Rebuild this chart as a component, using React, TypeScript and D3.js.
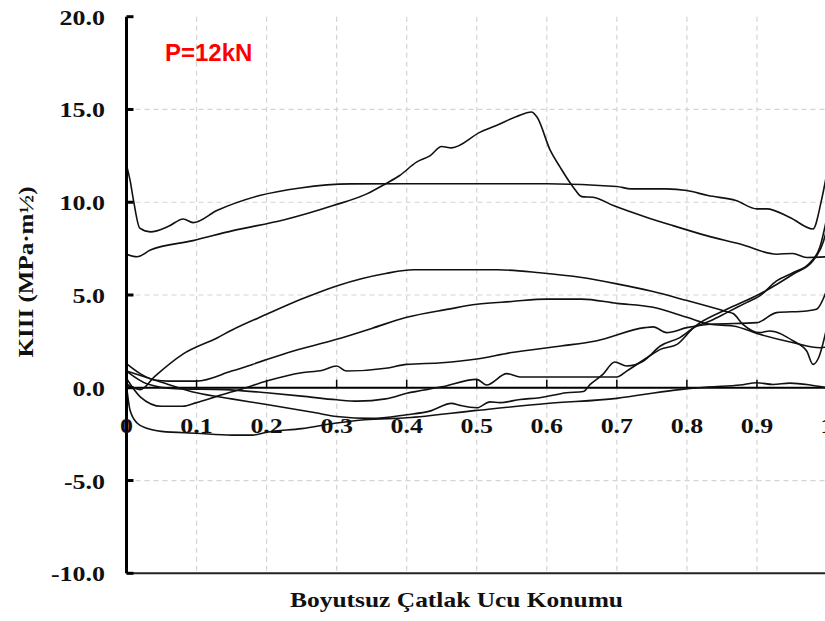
import * as d3 from 'd3';
import React from 'react';

type Pt = [number, number];

// tick values
const yTicks = [-10, -5, 0, 5, 10, 15, 20];
const xTicks = [0, 0.1, 0.2, 0.3, 0.4, 0.5, 0.6, 0.7, 0.8, 0.9, 1];
const yGrid = [-5, 5, 10, 15];

// curves: [crack tip position, KIII]
const curveA: Pt[] = [
  [0, 12.0], [0.005, 11.2], [0.01, 10.1], [0.019, 8.6], [0.034, 8.4], [0.06, 8.7], [0.081, 9.1],
  [0.095, 8.9], [0.129, 9.55], [0.19, 10.36], [0.248, 10.77], [0.32, 10.99], [0.4, 11.0],
  [0.6, 11.0], [0.7, 10.85], [0.72, 10.72], [0.77, 10.72], [0.8, 10.63], [0.83, 10.36],
  [0.87, 10.09], [0.9, 9.64], [0.914, 9.64], [0.947, 9.18], [0.98, 8.56], [0.992, 10.09], [1, 11.6],
];
const curveB: Pt[] = [
  [0, 7.2], [0.015, 7.06], [0.034, 7.42], [0.095, 7.93], [0.152, 8.47], [0.224, 9.04],
  [0.295, 9.82], [0.343, 10.45], [0.37, 11.0], [0.39, 11.44], [0.414, 12.16], [0.433, 12.5],
  [0.45, 13.0], [0.464, 12.93], [0.505, 13.78], [0.528, 14.14], [0.557, 14.62], [0.578, 14.86],
  [0.586, 14.59], [0.605, 12.79], [0.619, 11.89], [0.638, 10.8], [0.65, 10.3], [0.666, 10.27],
  [0.695, 9.82], [0.743, 9.18], [0.78, 8.74], [0.828, 8.2], [0.876, 7.75], [0.928, 7.2],
  [0.951, 7.24], [0.971, 7.02], [1, 7.06],
];
const curveC: Pt[] = [
  [0, 0.2], [0.02, -0.1], [0.04, 0.6], [0.08, 1.8], [0.13, 2.7], [0.15, 3.1], [0.2, 3.96],
  [0.25, 4.78], [0.3, 5.49], [0.37, 6.16], [0.41, 6.36], [0.53, 6.36], [0.59, 6.2], [0.65, 5.94],
  [0.7, 5.6], [0.75, 5.2], [0.8, 4.7], [0.857, 4.1], [0.866, 4.0], [0.88, 3.42], [0.904, 2.97],
  [0.918, 3.06], [0.952, 2.52], [0.971, 1.98], [0.98, 1.26], [0.988, 1.62], [1, 3.3],
];
const curveD: Pt[] = [
  [0, 1.3], [0.02, 0.75], [0.04, 0.42], [0.06, 0.36], [0.1, 0.36], [0.15, 0.9], [0.18, 1.26],
  [0.23, 1.89], [0.3, 2.61], [0.35, 3.2], [0.4, 3.8], [0.46, 4.24], [0.5, 4.5], [0.55, 4.65],
  [0.6, 4.78], [0.65, 4.78], [0.7, 4.55], [0.75, 4.35], [0.8, 3.8], [0.833, 3.42], [0.866, 3.33],
  [0.904, 2.88], [0.952, 2.43], [0.99, 2.16], [1, 2.2],
];
const curveE: Pt[] = [
  [0, 0.5], [0.02, -0.5], [0.05, -1.0], [0.08, -1.0], [0.1, -0.8], [0.13, -0.45], [0.17, 0],
  [0.2, 0.36], [0.25, 0.81], [0.28, 0.94], [0.3, 1.17], [0.314, 0.9], [0.37, 1.05], [0.4, 1.26],
  [0.45, 1.35], [0.5, 1.55], [0.55, 1.9], [0.62, 2.25], [0.67, 2.52], [0.74, 3.24], [0.752, 3.28],
  [0.771, 2.97], [0.8, 3.24], [0.833, 3.42], [0.9, 3.51], [0.928, 4.05], [0.971, 4.14],
  [0.985, 4.23], [1, 5.3],
];
const curveF: Pt[] = [
  [0, 0.9], [0.03, 0.2], [0.07, -0.05], [0.14, -0.1], [0.2, -0.27], [0.25, -0.45], [0.3, -0.65],
  [0.33, -0.72], [0.37, -0.6], [0.4, -0.3], [0.45, 0.05], [0.5, 0.45], [0.514, 0.15],
  [0.543, 0.76], [0.562, 0.58], [0.6, 0.58], [0.7, 0.58], [0.714, 0.9], [0.743, 1.62],
  [0.762, 2.07], [0.786, 2.34], [0.81, 3.24], [0.833, 3.6], [0.857, 4.05], [0.885, 4.59],
  [0.904, 4.95], [0.928, 5.76], [0.952, 6.21], [0.976, 6.75], [0.99, 7.6], [1, 9.2],
];
const curveG: Pt[] = [
  [0, 0.9], [0.05, 0.3], [0.1, -0.27], [0.15, -0.6], [0.2, -0.9], [0.27, -1.35], [0.3, -1.55],
  [0.35, -1.65], [0.4, -1.45], [0.433, -1.26], [0.464, -0.84], [0.476, -0.95], [0.5, -1.08],
  [0.519, -0.76], [0.533, -0.8], [0.562, -0.63], [0.59, -0.54], [0.628, -0.27], [0.652, -0.2],
  [0.662, 0.18], [0.68, 0.72], [0.697, 1.39], [0.714, 1.17], [0.738, 1.44], [0.762, 2.25],
  [0.79, 2.7], [0.819, 3.51], [0.857, 4.23], [0.904, 5.05], [0.952, 6.13], [0.98, 6.84],
  [0.995, 7.9], [1, 8.6],
];
const curveH: Pt[] = [
  [0, 0.1], [0.005, -1.2], [0.015, -1.9], [0.03, -2.2], [0.05, -2.35], [0.1, -2.45], [0.15, -2.55],
  [0.18, -2.55], [0.2, -2.4], [0.25, -2.2], [0.3, -1.9], [0.34, -1.72], [0.4, -1.62], [0.5, -1.22],
  [0.6, -0.85], [0.7, -0.57], [0.78, -0.14], [0.83, 0.04], [0.876, 0.15], [0.9, 0.27],
  [0.923, 0.18], [0.947, 0.25], [0.976, 0.15], [1, 0.0],
];

const curves = [curveA, curveB, curveC, curveD, curveE, curveF, curveG, curveH];

const W = 825;
const H = 621;
const serif = '"Liberation Serif", "Times New Roman", serif';

const App: React.FC = () => {
  const x = d3.scaleLinear().domain([0, 1]).range([126.5, 827]);
  const y = d3.scaleLinear().domain([-10, 20]).range([573.3, 16.7]);

  const line = d3.line<Pt>()
    .x(d => x(d[0]))
    .y(d => y(d[1]))
    .curve(d3.curveMonotoneX);

  const top = y(20);
  const bottom = y(-10);
  const left = x(0);

  return (
    <svg width={W} height={H} style={{ position: 'absolute', left: 0, top: 0, background: '#fff' }}>
      {/* grid */}
      {xTicks.filter(t => t > 0).map(t => (
        <line key={'gx' + t} x1={x(t)} x2={x(t)} y1={top} y2={bottom}
          stroke="#d4d4d4" strokeWidth={1.2} strokeDasharray="5,4" />
      ))}
      {yGrid.map(t => (
        <line key={'gy' + t} x1={left} x2={W} y1={y(t)} y2={y(t)}
          stroke="#d4d4d4" strokeWidth={1.2} strokeDasharray="5,4" />
      ))}

      {/* bottom frame */}
      <line x1={left} x2={W} y1={bottom} y2={bottom} stroke="#222" strokeWidth={2} />

      {/* zero axis with ticks */}
      <line x1={left} x2={W} y1={y(0)} y2={y(0)} stroke="#000" strokeWidth={2} />
      {xTicks.filter(t => t > 0).map(t => (
        <line key={'tx' + t} x1={x(t)} x2={x(t)} y1={y(0)} y2={y(0) - 8} stroke="#000" strokeWidth={1.5} />
      ))}

      {/* curves */}
      {curves.map((c, i) => (
        <path key={'c' + i} d={line(c) || ''} fill="none" stroke="#111" strokeWidth={1.6} />
      ))}

      {/* left axis */}
      <line x1={left} x2={left} y1={top} y2={bottom} stroke="#000" strokeWidth={3} />
      {yTicks.map(t => (
        <line key={'ty' + t} x1={left} x2={left + 7} y1={y(t)} y2={y(t)} stroke="#000" strokeWidth={3} />
      ))}

      {/* y tick labels */}
      {yTicks.map(t => (
        <g key={'ly' + t} transform={`translate(105,${y(t) + 8}) scale(1.18,1)`}>
          <text textAnchor="end" fontFamily={serif} fontWeight="bold" fontSize={22} fill="#111">
            {t.toFixed(1)}
          </text>
        </g>
      ))}

      {/* x tick labels */}
      {xTicks.map(t => (
        <g key={'lx' + t} transform={`translate(${x(t)},433) scale(1.18,1)`}>
          <text textAnchor="middle" fontFamily={serif} fontWeight="bold" fontSize={22} fill="#111">
            {d3.format('~g')(t)}
          </text>
        </g>
      ))}

      {/* axis titles */}
      <text x={456.5} y={607} textAnchor="middle" fontFamily={serif} fontWeight="bold" fontSize={22}
        fill="#111" textLength={333} lengthAdjust="spacingAndGlyphs">
        Boyutsuz Çatlak Ucu Konumu
      </text>
      <g transform="translate(33,272) rotate(-90)">
        <text textAnchor="middle" fontFamily={serif} fontWeight="bold" fontSize={22} fill="#111"
          textLength={171} lengthAdjust="spacingAndGlyphs">
          KIII (MPa·m½)
        </text>
      </g>

      {/* load label */}
      <text x={165} y={61} fontFamily='"Liberation Sans", Arial, sans-serif' fontWeight="bold"
        fontSize={24} fill="#ff0000">
        P=12kN
      </text>
    </svg>
  );
};

export default App;
